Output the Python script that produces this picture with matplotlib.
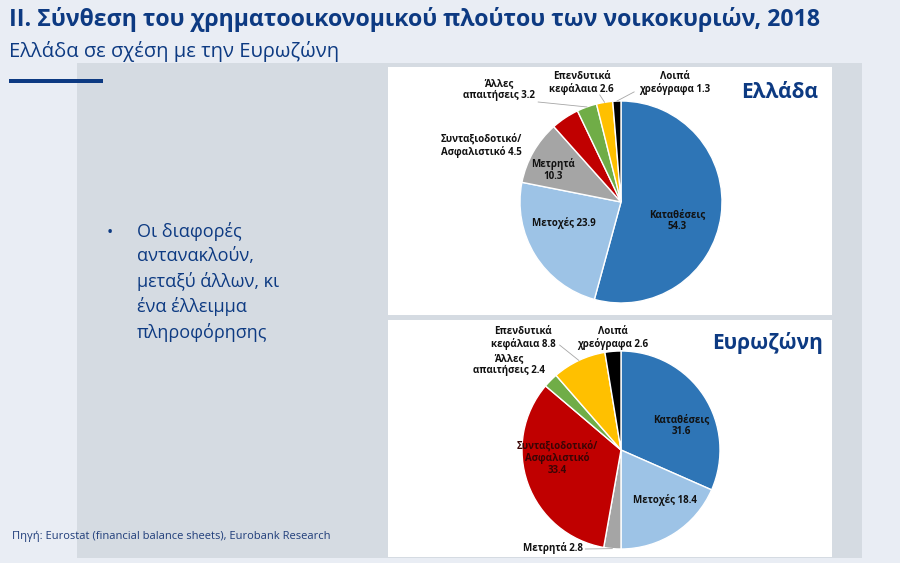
import matplotlib
matplotlib.use("Agg")
import matplotlib.pyplot as plt
from matplotlib.patches import Rectangle
import numpy as np

plt.rcParams['font.family'] = ['Open Sans', 'DejaVu Sans']

# δεδομένα
categories = ['Καταθέσεις', 'Μετοχές', 'Μετρητά', 'Συνταξιοδοτικό/Ασφαλιστικό',
              'Άλλες απαιτήσεις', 'Επενδυτικά κεφάλαια', 'Λοιπά χρεόγραφα']
greece = [54.3, 23.9, 10.3, 4.5, 3.2, 2.6, 1.3]
eurozone = [31.6, 18.4, 2.8, 33.4, 2.4, 8.8, 2.6]
colors = ['#2e75b6', '#9dc3e6', '#a5a5a5', '#c00000', '#70ad47', '#ffc000', '#000000']

greece_fmt = ['Καταθέσεις\n{}', 'Μετοχές {}', 'Μετρητά\n{}', 'Συνταξιοδοτικό/\nΑσφαλιστικό {}',
              'Άλλες\nαπαιτήσεις {}', 'Επενδυτικά\nκεφάλαια {}', 'Λοιπά\nχρεόγραφα {}']
euro_fmt = ['Καταθέσεις\n{}', 'Μετοχές {}', 'Μετρητά {}', 'Συνταξιοδοτικό/\nΑσφαλιστικό\n{}',
            'Άλλες\nαπαιτήσεις {}', 'Επενδυτικά\nκεφάλαια {}', 'Λοιπά\nχρεόγραφα {}']

# θέσεις ετικετών (σε μονάδες ακτίνας)
greece_pos = [(0.56, -0.18, 'center'), (-0.57, -0.21, 'center'), (-0.67, 0.32, 'center'),
              (-0.98, 0.56, 'right'), (-1.21, 1.11, 'center'), (-0.39, 1.18, 'center'),
              (0.53, 1.18, 'center')]
euro_pos = [(0.61, 0.25, 'center'), (0.44, -0.50, 'center'), (-0.38, -0.99, 'right'),
            (-0.64, -0.08, 'center'), (-1.13, 0.86, 'center'), (-0.99, 1.13, 'center'),
            (-0.08, 1.13, 'center')]
greece_leaders = {4: (-0.82, 0.99), 5: (-0.21, 1.06), 6: (0.13, 1.09)}
euro_leaders = {5: (-0.62, 1.06), 2: (-0.36, -1.0)}

W, H = 900, 563
navy = '#0d3a82'
fig = plt.figure(figsize=(9, 5.63), dpi=100)
fig.patch.set_facecolor('#e9edf4')

def px(x0, y0, x1, y1):
    return [x0 / W, 1 - y1 / H, (x1 - x0) / W, (y1 - y0) / H]

r = px(77, 63, 862, 558)
fig.patches.append(Rectangle((r[0], r[1]), r[2], r[3], transform=fig.transFigure,
                             facecolor='#d5dbe2', edgecolor='none', zorder=-2))
r = px(9, 79, 103, 83)
fig.patches.append(Rectangle((r[0], r[1]), r[2], r[3], transform=fig.transFigure,
                             facecolor=navy, edgecolor='none', zorder=-1))

fig.text(9 / W, 1 - 20 / H, 'II. Σύνθεση του χρηματοοικονομικού πλούτου των νοικοκυριών, 2018',
         fontsize=16.7, fontweight='bold', color=navy, va='center', ha='left')
fig.text(9 / W, 1 - 51 / H, 'Ελλάδα σε σχέση με την Ευρωζώνη',
         fontsize=14.5, color=navy, va='center', ha='left')
fig.text(107 / W, 1 - 233 / H, '•', fontsize=12, color=navy, va='center', ha='left')
fig.text(137 / W, 1 - 222 / H,
         'Οι διαφορές\nαντανακλούν,\nμεταξύ άλλων, κι\nένα έλλειμμα\nπληροφόρησης',
         fontsize=13, color=navy, va='top', ha='left', linespacing=1.44)
fig.text(12 / W, 1 - 536 / H, 'Πηγή: Eurostat (financial balance sheets), Eurobank Research',
         fontsize=8, color='#1f3d7a', va='center', ha='left')


def draw_pie(box, center, rad, values, fmts, pos, leaders, title, title_xy, red_text):
    x0, y0, x1, y1 = box
    ax = fig.add_axes(px(x0, y0, x1, y1))
    ax.set_zorder(2)
    wedges, _ = ax.pie(values, colors=colors, startangle=90, counterclock=False,
                       wedgeprops=dict(edgecolor='white', linewidth=1.0))
    ax.set_frame_on(True)
    ax.set_facecolor('white')
    cx, cy = center
    ax.set_xlim((x0 - cx) / rad, (x1 - cx) / rad)
    ax.set_ylim((cy - y1) / rad, (cy - y0) / rad)
    ax.set_aspect('auto')
    for s in ax.spines.values():
        s.set_visible(False)
    ax.set_xticks([])
    ax.set_yticks([])
    for i, (w, v) in enumerate(zip(wedges, values)):
        tx, ty, ha = pos[i]
        col = '#3a0505' if (red_text and i == 3) else '#111111'
        ax.text(tx, ty, fmts[i].format(v), ha=ha, va='center', fontsize=7,
                fontweight='bold', color=col, multialignment='center', linespacing=1.1)
        if i in leaders:
            ang = np.deg2rad((w.theta1 + w.theta2) / 2)
            lx, ly = leaders[i]
            ax.plot([lx, np.cos(ang)], [ly, np.sin(ang)], color='#a6a6a6', lw=0.6)
    tx, ty = title_xy
    ax.text((tx - cx) / rad, (cy - ty) / rad, title, ha='left', va='center',
            fontsize=15, fontweight='bold', color=navy)


draw_pie((388, 67, 832, 315), (621, 202), 101, greece, greece_fmt, greece_pos,
         greece_leaders, 'Ελλάδα', (741, 92), False)
draw_pie((388, 320, 832, 557), (621, 450), 99, eurozone, euro_fmt, euro_pos,
         euro_leaders, 'Ευρωζώνη', (712, 343), True)

fig.savefig('out.png', dpi=100, facecolor=fig.get_facecolor())
